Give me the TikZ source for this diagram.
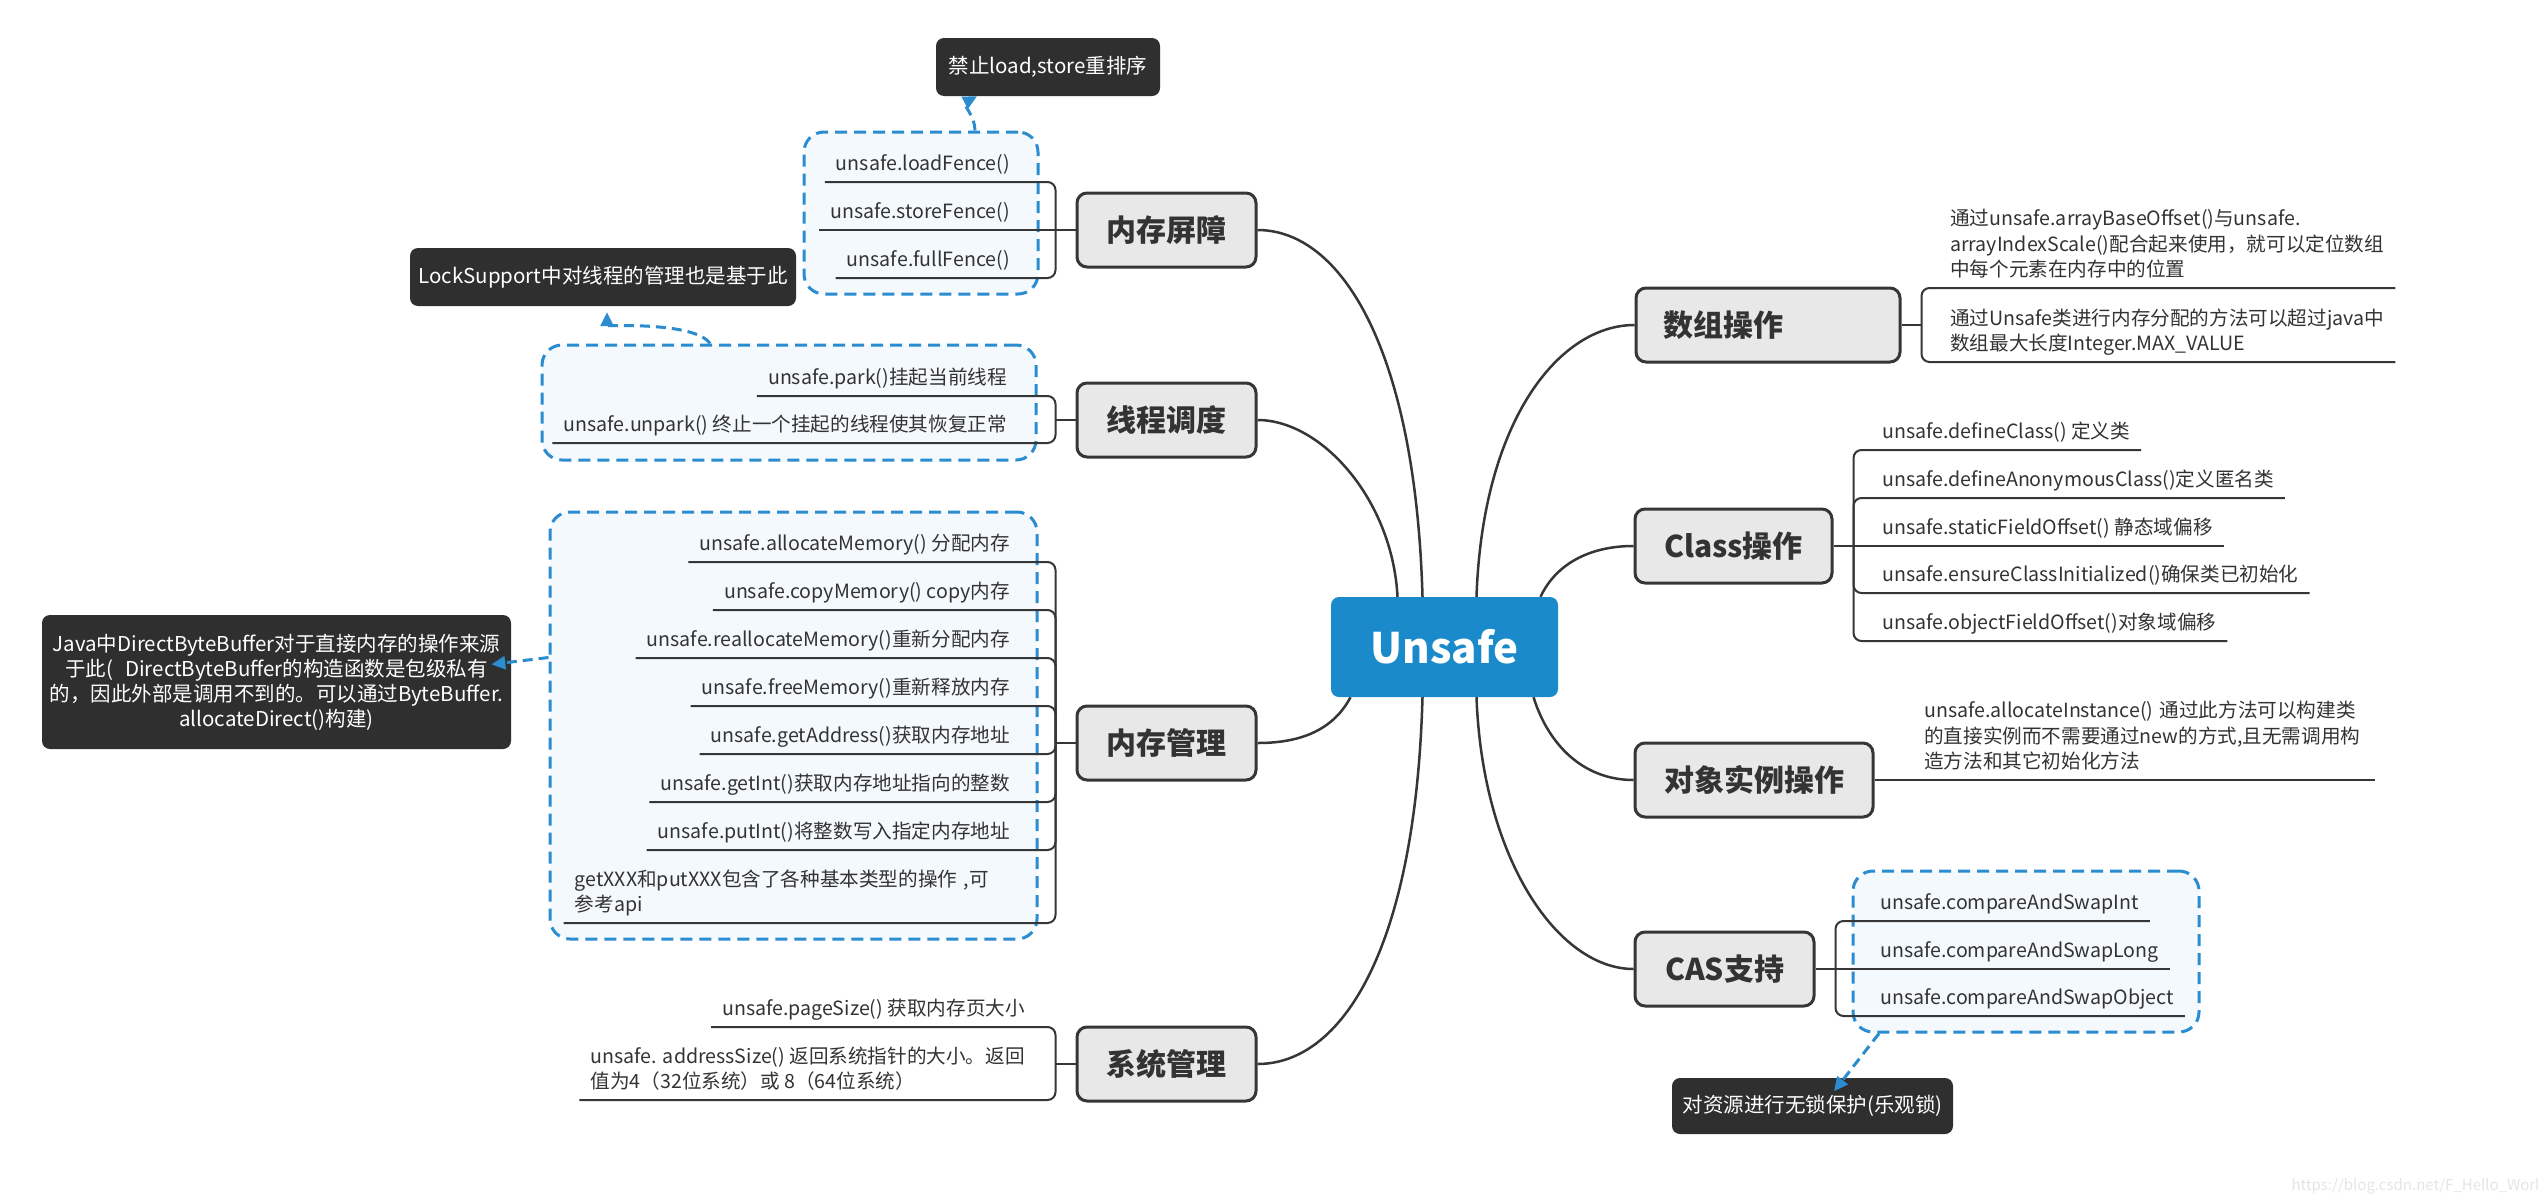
\documentclass[tikz,border=0pt]{standalone}
\usepackage{fontspec}
\setmainfont{Noto Sans CJK SC}
\usepackage{tikz}
\usetikzlibrary{positioning,arrows.meta,calc}
\pgfdeclarelayer{background}
\pgfsetlayers{background,main}
\definecolor{rootblue}{HTML}{1A8ACB}
\definecolor{topicfill}{HTML}{E8E8E8}
\definecolor{ink}{HTML}{363636}
\definecolor{txt}{HTML}{333333}
\definecolor{grpblue}{HTML}{2B8CD0}
\definecolor{grpfill}{HTML}{F3F9FD}
\definecolor{notefill}{HTML}{2F2F2F}
\newcommand{\leafend}{\rule[-5pt]{0pt}{5pt}}
\tikzset{
  rootbox/.style = {fill=rootblue, text=white, rounded corners=8pt,
                    minimum width=227pt, minimum height=100pt,
                    font=\fontsize{42}{50}\selectfont\bfseries},
  topic/.style   = {draw=ink, fill=topicfill, line width=3pt, rounded corners=10pt,
                    minimum height=74pt, text=txt, font=\fontsize{30}{36}\selectfont\bfseries},
  leaf/.style    = {text=txt, font=\fontsize{19.6}{25.5}\selectfont,
                    inner xsep=11pt, inner ysep=6pt},
  onel/.style    = {leaf, text depth=5pt},
  grp/.style     = {draw=grpblue, fill=grpfill, line width=3pt,
                    dash pattern=on 12pt off 7pt, rounded corners=20pt},
  note/.style    = {fill=notefill, text=white, rounded corners=8pt,
                    font=\fontsize{20.5}{25}\selectfont},
  link/.style    = {draw=ink, line width=2.5pt},
  tree/.style    = {draw=ink, line width=2pt, rounded corners=8pt},
  rel/.style     = {draw=grpblue, line width=3pt, dash pattern=on 10pt off 6pt,
                    -{Triangle[length=14pt,width=13pt]}},
}

\begin{document}
\begin{tikzpicture}[x=1pt,y=-1pt]
  \useasboundingbox (0,0) rectangle (2538,1197);
  % dashed groups
  \node[grp, minimum width=234pt, minimum height=162pt] (fencegrp) at (921,213) {};
  \node[grp, minimum width=494pt, minimum height=115pt] (parkgrp) at (789,402.5) {};
  \node[grp, minimum width=487pt, minimum height=427pt] (memgrp) at (793.5,725.5) {};
  \node[grp, minimum width=346pt, minimum height=161pt] (casgrp) at (2026,951.5) {};

  % root and main topics
  \node[rootbox] (root) at (1444.5,647) {Unsafe};
  \node[topic, minimum width=179pt] (membar) at (1166.5,230) {内存屏障};
  \node[topic, minimum width=179pt] (thread) at (1166.5,420) {线程调度};
  \node[topic, minimum width=179pt] (memmgr) at (1166.5,743) {内存管理};
  \node[topic, minimum width=179pt] (sysmgr) at (1166.5,1064) {系统管理};
  \node[topic, inner xsep=27pt, text width=210pt, align=left] (arrop) at (1768,325) {数组操作};
  \node[topic, minimum width=197pt] (clsop) at (1733.5,546) {Class操作};
  \node[topic, minimum width=238pt] (objop) at (1754,780) {对象实例操作};
  \node[topic, minimum width=179pt] (casop) at (1724.5,969) {CAS支持};

  % joins of the brackets
  \coordinate (fencejoin) at ([xshift=-20pt]membar.west);
  \coordinate (parkjoin) at ([xshift=-20pt]thread.west);
  \coordinate (memjoin) at ([xshift=-20pt]memmgr.west);
  \coordinate (sysjoin) at ([xshift=-20pt]sysmgr.west);
  \coordinate (arrjoin) at ([xshift=20pt]arrop.east);
  \coordinate (clsjoin) at ([xshift=20pt]clsop.east);
  \coordinate (casjoin) at ([xshift=20pt]casop.east);

  % left leaves
  \foreach \n/\y/\txt in {1/182/{unsafe.loadFence()}, 2/230/{unsafe.storeFence()},
                          3/278/{unsafe.fullFence()}}
    \node[onel, anchor=south east] (fence\n) at (1021,\y) {\txt};
  \node[onel, anchor=south east] (park1) at (1018,396) {unsafe.park()挂起当前线程};
  \node[onel, anchor=south east] (park2) at (1018,443) {unsafe.unpark() 终止一个挂起的线程使其恢复正常};
  \foreach \n/\y/\txt in {1/562/{unsafe.allocateMemory() 分配内存},
                          2/610/{unsafe.copyMemory() copy内存},
                          3/658/{unsafe.reallocateMemory()重新分配内存},
                          4/706/{unsafe.freeMemory()重新释放内存},
                          5/754/{unsafe.getAddress()获取内存地址},
                          6/802/{unsafe.getInt()获取内存地址指向的整数},
                          7/850/{unsafe.putInt()将整数写入指定内存地址}}
    \node[onel, anchor=south east] (mem\n) at (1021,\y) {\txt};
  \node[leaf, anchor=south east, text width=435pt, align=left] (mem8) at (1021,923)
    {getXXX和putXXX包含了各种基本类型的操作 ,可\\参考api\leafend};
  \node[onel, anchor=south east] (sys1) at (1036,1027) {unsafe.pageSize() 获取内存页大小};
  \node[leaf, anchor=south east, align=left] (sys2) at (1036,1100)
    {unsafe. addressSize() 返回系统指针的大小。返回\\值为4（32位系统）或 8（64位系统）\leafend};

  % right leaves
  \node[leaf, anchor=south west, text width=434pt, align=left] (arr1) at (1939,288)
    {通过unsafe.arrayBaseOffset()与unsafe.\\arrayIndexScale()配合起来使用，就可以定位数组\\中每个元素在内存中的位置\leafend};
  \node[leaf, anchor=south west, text width=434pt, align=left] (arr2) at (1939,362)
    {通过Unsafe类进行内存分配的方法可以超过java中\\数组最大长度Integer.MAX\_VALUE\leafend};
  \foreach \n/\y/\txt in {1/450/{unsafe.defineClass() 定义类},
                          2/498/{unsafe.defineAnonymousClass()定义匿名类},
                          3/546/{unsafe.staticFieldOffset() 静态域偏移},
                          4/593/{unsafe.ensureClassInitialized()确保类已初始化},
                          5/641/{unsafe.objectFieldOffset()对象域偏移}}
    \node[onel, anchor=south west] (cls\n) at (1871,\y) {\txt};
  \node[leaf, anchor=south west, text width=440pt, align=left] (obj1) at (1913,780)
    {unsafe.allocateInstance() 通过此方法可以构建类\\的直接实例而不需要通过new的方式,且无需调用构\\造方法和其它初始化方法\leafend};
  \foreach \n/\y/\txt in {1/921/{unsafe.compareAndSwapInt},
                          2/969/{unsafe.compareAndSwapLong},
                          3/1016/{unsafe.compareAndSwapObject}}
    \node[onel, anchor=south west] (cas\n) at (1869,\y) {\txt};

  % brackets and underlines
  \draw[tree] (membar.west) -- (fencejoin);
  \draw[tree] (fencejoin) -- (fence2.south west);
  \foreach \n in {1,3} \draw[tree] (fencejoin) |- (fence\n.south west);
  \draw[tree] (thread.west) -- (parkjoin);
  \foreach \n in {1,2} \draw[tree] (parkjoin) |- (park\n.south west);
  \draw[tree] (memmgr.west) -- (memjoin);
  \foreach \n in {1,...,8} \draw[tree] (memjoin) |- (mem\n.south west);
  \draw[tree] (sysmgr.west) -- (sysjoin);
  \foreach \n in {1,2} \draw[tree] (sysjoin) |- (sys\n.south west);
  \draw[tree] (arrop.east) -- (arrjoin);
  \foreach \n in {1,2} \draw[tree] (arrjoin) |- (arr\n.south east);
  \draw[tree] (clsop.east) -- (clsjoin);
  \draw[tree] (clsjoin) -- (cls3.south east);
  \foreach \n in {1,2,4,5} \draw[tree] (clsjoin) |- (cls\n.south east);
  \draw[tree] (objop.east) -- (objop.east -| obj1.south east);
  \draw[tree] (casop.east) -- (casjoin);
  \draw[tree] (casjoin) -- (cas2.south east);
  \foreach \n in {1,3} \draw[tree] (casjoin) |- (cas\n.south east);

  % callouts
  \node[note, minimum width=224pt, minimum height=58pt] (noteorder) at (1048,67) {禁止load,store重排序};
  \node[note, minimum width=386pt, minimum height=58pt] (notelock) at (603,277) {LockSupport中对线程的管理也是基于此};
  \node[note, minimum width=469pt, minimum height=134pt, align=center] (notebuf) at (276.5,682)
    {Java中DirectByteBuffer对于直接内存的操作来源\\于此(\hspace{12pt}DirectByteBuffer的构造函数是包级私有\\的，因此外部是调用不到的。可以通过ByteBuffer.\\allocateDirect()构建)};
  \node[note, minimum width=281pt, minimum height=56pt] (notecas) at (1812.5,1106) {对资源进行无锁保护(乐观锁)};

  % relations
  \draw[rel] ([xshift=54pt]fencegrp.north) .. controls +(0,-15) and +(-15,8) .. ([xshift=-71pt]noteorder.south);
  \draw[rel, shorten >=6pt] ([xshift=-79pt]parkgrp.north) .. controls +(-15,-22) and +(0,20) .. ([xshift=4pt]notelock.south);
  \draw[rel, shorten >=-20pt] ([yshift=68pt]memgrp.west) -- ([yshift=20pt]notebuf.east);
  \draw[rel, shorten >=-17pt] ([xshift=-147pt]casgrp.south) -- ([xshift=32pt]notecas.north);

  \node[anchor=west, text=black!10, font=\fontsize{15}{15}\selectfont] (mark) at (2288,1186)
    {https://blog.csdn.net/F\_Hello\_World};

  % branches from the root
  \begin{pgfonlayer}{background}
    \fill[white] (0,0) rectangle (2538,1197);
    \draw[link] ([xshift=-22pt]root.north) .. controls +(-7,-247) and +(84,0) .. (membar.east);
    \draw[link] ([xshift=-47pt]root.north) .. controls +(-5,-97) and +(64,0) .. (thread.east);
    \draw[link] ([xshift=-94pt]root.south) .. controls +(-20,38) and +(34,0) .. (memmgr.east);
    \draw[link] ([xshift=-22pt]root.south) .. controls +(-7,253) and +(84,0) .. (sysmgr.east);
    \draw[link] ([xshift=32pt]root.north) .. controls +(6,-177) and +(-75,0) .. (arrop.west);
    \draw[link] ([xshift=96pt]root.north) .. controls +(15,-32) and +(-45,0) .. (clsop.west);
    \draw[link] ([xshift=89pt]root.south) .. controls +(15,48) and +(-50,0) .. (objop.west);
    \draw[link] ([xshift=32pt]root.south) .. controls +(6,163) and +(-75,0) .. (casop.west);
  \end{pgfonlayer}
\end{tikzpicture}
\end{document}
